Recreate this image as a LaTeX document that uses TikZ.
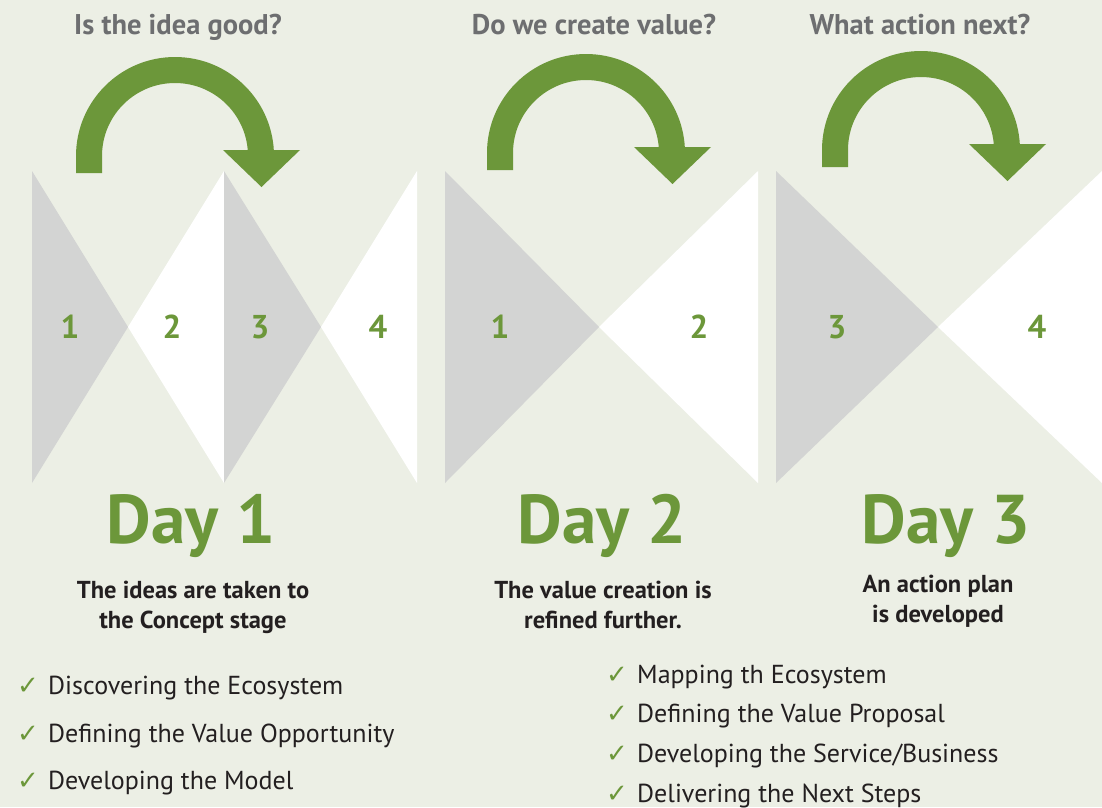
\documentclass[tikz,border=0pt]{standalone}
\usepackage{fontspec}
\setmainfont{PT Sans}
\newfontfamily\symfont{DejaVu Sans}
\usepackage{xcolor}
\usetikzlibrary{positioning,calc}

\definecolor{bgpale}{HTML}{ECEFE5}
\definecolor{leafgreen}{HTML}{6C973A}
\definecolor{trigrey}{HTML}{D3D4D3}
\definecolor{headgrey}{HTML}{6D6E70}
\definecolor{inkdark}{HTML}{231F20}

% curved arrow over one day, #1 = centre x, #2 = centre y
\newcommand{\turnarrow}[2]{%
  \fill[leafgreen] (#1-99,#2-17) -- (#1-99,#2) arc[start angle=180,end angle=0,radius=99]
    -- (#1+99,#2+6) -- (#1+125,#2+6) -- (#1+86.5,#2-31) -- (#1+48,#2+6) -- (#1+73,#2+6)
    -- (#1+73,#2) arc[start angle=0,end angle=180,radius=73] -- (#1-73,#2-17) -- cycle;}

\begin{document}
\begin{tikzpicture}[x=1pt,y=1pt,line join=round,
    question/.style={anchor=base,font=\bfseries\fontsize{28.5}{32}\selectfont,text=headgrey},
    daylabel/.style={anchor=base,font=\bfseries\fontsize{69}{80}\selectfont,text=leafgreen},
    stagenum/.style={font=\bfseries\fontsize{33}{40}\selectfont,text=leafgreen},
    summary/.style={anchor=base,align=center,font=\bfseries\fontsize{24.5}{30}\selectfont,text=inkdark},
    tick/.style={anchor=base west,inner sep=0pt,font=\symfont\fontsize{26}{28}\selectfont,text=leafgreen},
    item/.style={anchor=base west,inner sep=0pt,font=\fontsize{26}{30}\selectfont,text=inkdark}]
      \useasboundingbox (0,0) rectangle (1102,-807);
      \fill[bgpale] (0,0) rectangle (1102,-807);

      % day 1 triangles
      \fill[trigrey] (32,-171) -- (32,-483) -- (128,-327) -- cycle;
      \fill[white] (224,-171) -- (224,-483) -- (128,-327) -- cycle;
      \fill[trigrey] (224,-171) -- (224,-483) -- (321,-327) -- cycle;
      \fill[white] (417,-171) -- (417,-483) -- (321,-327) -- cycle;
      % day 2 triangles
      \fill[trigrey] (445,-171) -- (445,-483) -- (599,-327) -- cycle;
      \fill[white] (758,-171) -- (758,-483) -- (599,-327) -- cycle;
      % day 3 triangles
      \fill[trigrey] (776,-171) -- (776,-483) -- (938,-327) -- cycle;
      \fill[white] (1102,-171) -- (1102,-483) -- (938,-327) -- cycle;

      \turnarrow{175}{-156}
      \turnarrow{586}{-153}
      \turnarrow{921}{-150}

      \node[question] (q1) at (178,-34) {Is the idea good?};
      \node[question] (q2) at (594,-34) {Do we create value?};
      \node[question] (q3) at (920,-34) {What action next?};

      \node[stagenum] (s11) at (70,-327) {1};
      \node[stagenum] (s12) at (172,-327) {2};
      \node[stagenum] (s13) at (260,-327) {3};
      \node[stagenum] (s14) at (378,-327) {4};
      \node[stagenum] (s21) at (500,-327) {1};
      \node[stagenum] (s22) at (699,-327) {2};
      \node[stagenum] (s33) at (837,-327) {3};
      \node[stagenum] (s34) at (1037,-327) {4};

      \node[daylabel] (d1) at (191,-543) {Day 1};
      \node[daylabel] (d2) at (602,-543) {Day 2};
      \node[daylabel] (d3) at (946,-543) {Day 3};

      % base of a two-line node is its last line
      \node[summary] (t1) at (193,-628) {The ideas are taken to\\the Concept stage};
      \node[summary] (t2) at (603,-628) {The value creation is\\refined further.};
      \node[summary] (t3) at (938,-622) {An action plan\\is developed};

      % check lists
      \node[tick] (c1) at (17,-694) {✓};
      \node[item] (l1) at (48,-694) {Discovering the Ecosystem};
      \node[tick] (c2) at (17,-742) {✓};
      \node[item] (l2) at (48,-742) {Defining the Value Opportunity};
      \node[tick] (c3) at (17,-789) {✓};
      \node[item] (l3) at (48,-789) {Developing the Model};

      \node[tick] (c4) at (606,-683) {✓};
      \node[item] (r1) at (637,-683) {Mapping th Ecosystem};
      \node[tick] (c5) at (606,-722) {✓};
      \node[item] (r2) at (637,-722) {Defining the Value Proposal};
      \node[tick] (c6) at (606,-762) {✓};
      \node[item] (r3) at (637,-762) {Developing the Service/Business};
      \node[tick] (c7) at (606,-802) {✓};
      \node[item] (r4) at (637,-802) {Delivering the Next Steps};
\end{tikzpicture}
\end{document}
